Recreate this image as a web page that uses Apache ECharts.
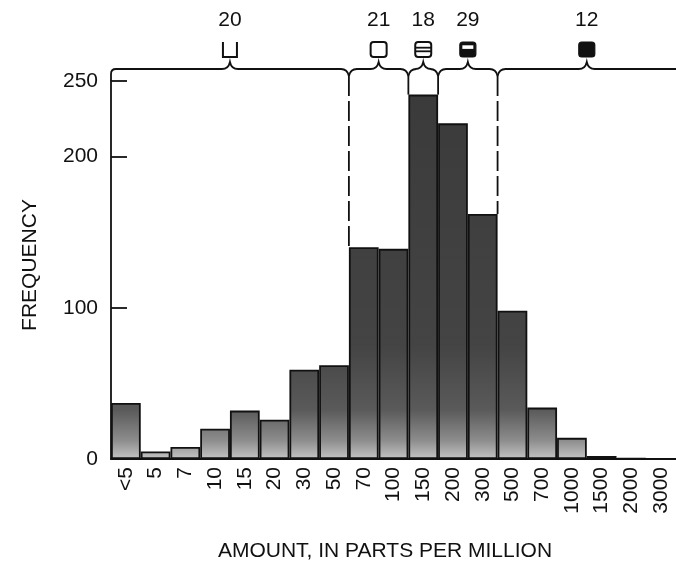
<!DOCTYPE html>
<html><head><meta charset="utf-8">
<script src="https://cdn.jsdelivr.net/npm/echarts@6/dist/echarts.min.js"></script>
<style>html,body{margin:0;padding:0;background:#fff}#c{width:676px;height:567px}</style>
</head><body><div id="c"></div><script>
// ---- data ----
const categories = ['<5','5','7','10','15','20','30','50','70','100','150','200','300','500','700','1000','1500','2000','3000'];
const frequency  = [37,5,8,20,32,26,59,62,140,139,241,222,162,98,34,14,2,0.6,0];
const yTickValues = [0,100,200,250];
const groupFirst  = ['<5','70','150','200','500'];
const groupLast   = ['50','100','150','300','3000'];
const groupCounts = [20,21,18,29,12];
const groupIcons  = ['cup','open','lined','band','solid'];

const FONT = '"Liberation Sans",Arial,Helvetica,sans-serif';
const FS = 21;
const iconIdx = {cup:0, open:1, lined:2, band:3, solid:4};
const groupData = groupFirst.map((f,i)=>[
  categories.indexOf(f), categories.indexOf(groupLast[i]) + 1, groupCounts[i], iconIdx[groupIcons[i]]
]);

function renderGroup(params, api){
  const s = api.value(0), e = api.value(1), n = api.value(2), k = api.value(3);
  const last = params.dataIndex === groupData.length - 1;
  const first = params.dataIndex === 0;
  const p0 = api.coord([s, 250]);
  const xl = p0[0], y250 = p0[1];
  const xr = api.coord([e, 250])[0];
  const xm = (xl + xr) / 2;
  const y0 = y250 - 12, d = 7, c = 8;
  let p = '';
  if (first) p += `M${xl},${y250}L${xl},${y0+5}Q${xl},${y0} ${xl+5},${y0}`;
  else p += `M${xl},${y0+d}Q${xl+1.5},${y0} ${xl+c},${y0}`;
  p += `L${xm-c},${y0}Q${xm-1.5},${y0} ${xm},${y0-d}Q${xm+1.5},${y0} ${xm+c},${y0}`;
  if (last) p += `L${xr+20},${y0}`;
  else p += `L${xr-c},${y0}Q${xr-1.5},${y0} ${xr},${y0+d}`;
  const children = [{
    type:'path', shape:{pathData:p}, style:{fill:null, stroke:'#111', lineWidth:1.8}
  }];
  // dashed boundary line
  if (!last) {
    const top = Math.max(frequency[e-1], frequency[e]);
    const yb = api.coord([e, top])[1];
    children.push({type:'line', shape:{x1:xr, y1:y0+d, x2:xr, y2:yb},
      style:{stroke:'#111', lineWidth:1.8, lineDash:[20,5]}});
  }
  // icon
  const w = 16, h = 15, ib = y0 - d - 5, it = ib - h, il = xm - w/2;
  if (k === 0) {
    children.push({type:'polyline', shape:{points:[[il+1,it],[il+1,ib],[il+w-1,ib],[il+w-1,it]]},
      style:{fill:null, stroke:'#111', lineWidth:2}});
  } else if (k === 1) {
    children.push({type:'rect', shape:{x:il,y:it,width:w,height:h,r:3}, style:{fill:'#fff', stroke:'#111', lineWidth:2}});
  } else if (k === 2) {
    children.push({type:'rect', shape:{x:il,y:it,width:w,height:h,r:3}, style:{fill:'#fff', stroke:'#111', lineWidth:2}});
    children.push({type:'line', shape:{x1:il,y1:it+h*0.38,x2:il+w,y2:it+h*0.38}, style:{stroke:'#111', lineWidth:1.8}});
    children.push({type:'line', shape:{x1:il,y1:it+h*0.62,x2:il+w,y2:it+h*0.62}, style:{stroke:'#111', lineWidth:1.8}});
  } else if (k === 3) {
    children.push({type:'rect', shape:{x:il,y:it,width:w,height:h,r:3}, style:{fill:'#111', stroke:'#111', lineWidth:1.2}});
    children.push({type:'rect', shape:{x:il+2.5,y:it+h*0.22,width:w-5,height:h*0.24}, style:{fill:'#fff'}});
  } else {
    children.push({type:'rect', shape:{x:il,y:it,width:w,height:h,r:3}, style:{fill:'#111', stroke:'#111', lineWidth:1.2}});
  }
  children.push({type:'text', style:{text:String(n), x:xm, y:it-11, align:'center', verticalAlign:'bottom',
    font:FS + 'px ' + FONT, fill:'#111'}});
  return {type:'group', children};
}

const chart = echarts.init(document.getElementById('c'), null, {renderer:'canvas'});
chart.setOption({
  animation:false,
  backgroundColor:'#fff',
  grid:{left:111, top:81, width:576, height:378, containLabel:false},
  xAxis:[{
    type:'category', data:categories, boundaryGap:true,
    axisLine:{lineStyle:{color:'#111', width:1.8}},
    axisTick:{show:false},
    axisLabel:{rotate:90, margin:8, interval:0, color:'#111', fontSize:FS, fontFamily:FONT}
  },{
    type:'value', min:0, max:categories.length, show:false
  }],
  yAxis:[{
    type:'value', min:0, max:250,
    axisLine:{show:true, lineStyle:{color:'#111', width:1.8}},
    axisTick:{show:true, inside:true, length:16, customValues:yTickValues, lineStyle:{color:'#111', width:1.8}},
    axisLabel:{customValues:yTickValues, margin:13, color:'#111', fontSize:FS, fontFamily:FONT},
    splitLine:{show:false}
  }],
  graphic:[
    {type:'text', x:385, y:551, style:{text:'AMOUNT, IN PARTS PER MILLION',
      align:'center', verticalAlign:'middle', font:FS + 'px ' + FONT, fill:'#111'}},
    {type:'text', x:30, y:265, rotation:Math.PI/2, style:{text:'FREQUENCY',
      align:'center', verticalAlign:'middle', font:FS + 'px ' + FONT, fill:'#111'}}
  ],
  series:[{
    type:'bar', data:frequency, barCategoryGap:'0%', xAxisIndex:0, yAxisIndex:0,
    itemStyle:{
      borderColor:'#111', borderWidth:1.8,
      color:new echarts.graphic.LinearGradient(0,459,0,81,[
        {offset:0, color:'#c4c4c4'},
        {offset:0.05, color:'#8c8c8c'},
        {offset:0.13, color:'#5a5a5a'},
        {offset:0.3, color:'#444'},
        {offset:1, color:'#3a3a3a'}
      ], true)
    }
  },{
    type:'custom', coordinateSystem:'cartesian2d', xAxisIndex:1, yAxisIndex:0,
    data:groupData, renderItem:renderGroup, clip:false, encode:{x:[0,1], y:2}, silent:true, z:5
  }]
});
</script></body></html>
